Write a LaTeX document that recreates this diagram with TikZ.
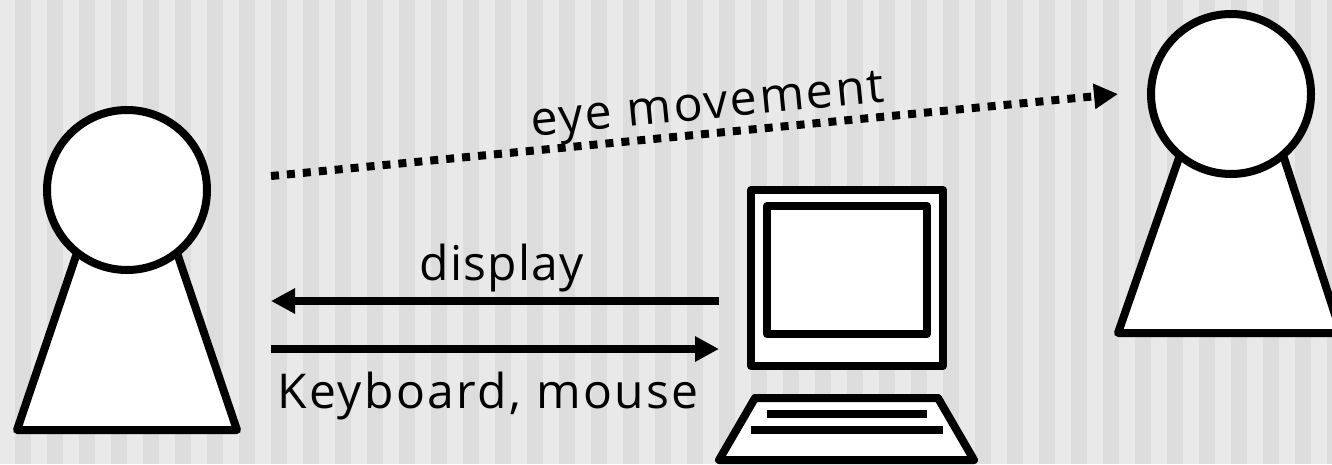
\documentclass[tikz,border=0pt]{standalone}
\usepackage{fontspec}
\setmainfont[LetterSpace=5]{Open Sans}
\newfontfamily\displayfont[LetterSpace=2.5]{Open Sans}
\usetikzlibrary{arrows.meta,positioning}
\definecolor{stripelight}{HTML}{E9E9E9}
\definecolor{stripedark}{HTML}{DDDDDD}

\begin{document}
\begin{tikzpicture}[
  x=1pt,y=-1pt,
  outline/.style={draw=black,fill=white,line width=8pt,line join=round},
  head/.style={outline,circle,minimum size=160pt,inner sep=0pt,outer sep=0pt},
  boxframe/.style={outline,rectangle,inner sep=0pt,outer sep=0pt},
  arr/.style={-{Triangle[length=24pt,width=24pt]},line width=8pt},
  keyrow/.style={line width=8pt},
  lbl/.style={font=\fontsize{48}{48}\selectfont,inner sep=0pt,anchor=base}
]
\useasboundingbox (0,0) rectangle (1332,464);
\clip (0,0) rectangle (1332,464);

% background stripes
\fill[stripelight] (0,0) rectangle (1332,464);
\foreach \k in {0,...,41}
  \fill[stripedark] (15+32*\k,0) rectangle (31+32*\k,464);

% user
\draw[outline] (78,250) -- (17,430) -- (237,430) -- (176,250) -- cycle;
\node[head] (userhead) at (127,190) {};

% observer
\draw[outline] (1180,155) -- (1118,333) -- (1341,333) -- (1283,155) -- cycle;
\node[head] (observerhead) at (1231,94) {};

% computer
\node[boxframe,minimum width=192pt,minimum height=176pt] (monitor) at (847,278) {};
\node[boxframe,minimum width=160pt,minimum height=128pt,below=16pt of monitor.north] (screen) {};
\draw[outline] (755,398) -- (938,398) -- (974,460) -- (719,460) -- cycle;
\draw[keyrow] (767,414) -- (927,414);
\draw[keyrow] (751,430) -- (943,430);

% connectors
\coordinate (gazestart) at (271,176);
\coordinate (gazeend) at (1118,94);
\coordinate (displaystart) at (719,301);
\coordinate (displayend) at (271,301);
\coordinate (inputstart) at (271,349);
\coordinate (inputend) at (719,349);

\draw[arr,dash pattern=on 8pt off 8pt] (gazestart) -- (gazeend);
\draw[arr] (displaystart) -- (displayend);
\draw[arr] (inputstart) -- (inputend);

\node[lbl,rotate=5.5] (gazelabel) at (709,119) {eye movement};
\node[lbl] (displaylabel) at (501.5,280) {\displayfont display};
\node[lbl] (inputlabel) at (488,408) {Keyboard, mouse};
\end{tikzpicture}
\end{document}
